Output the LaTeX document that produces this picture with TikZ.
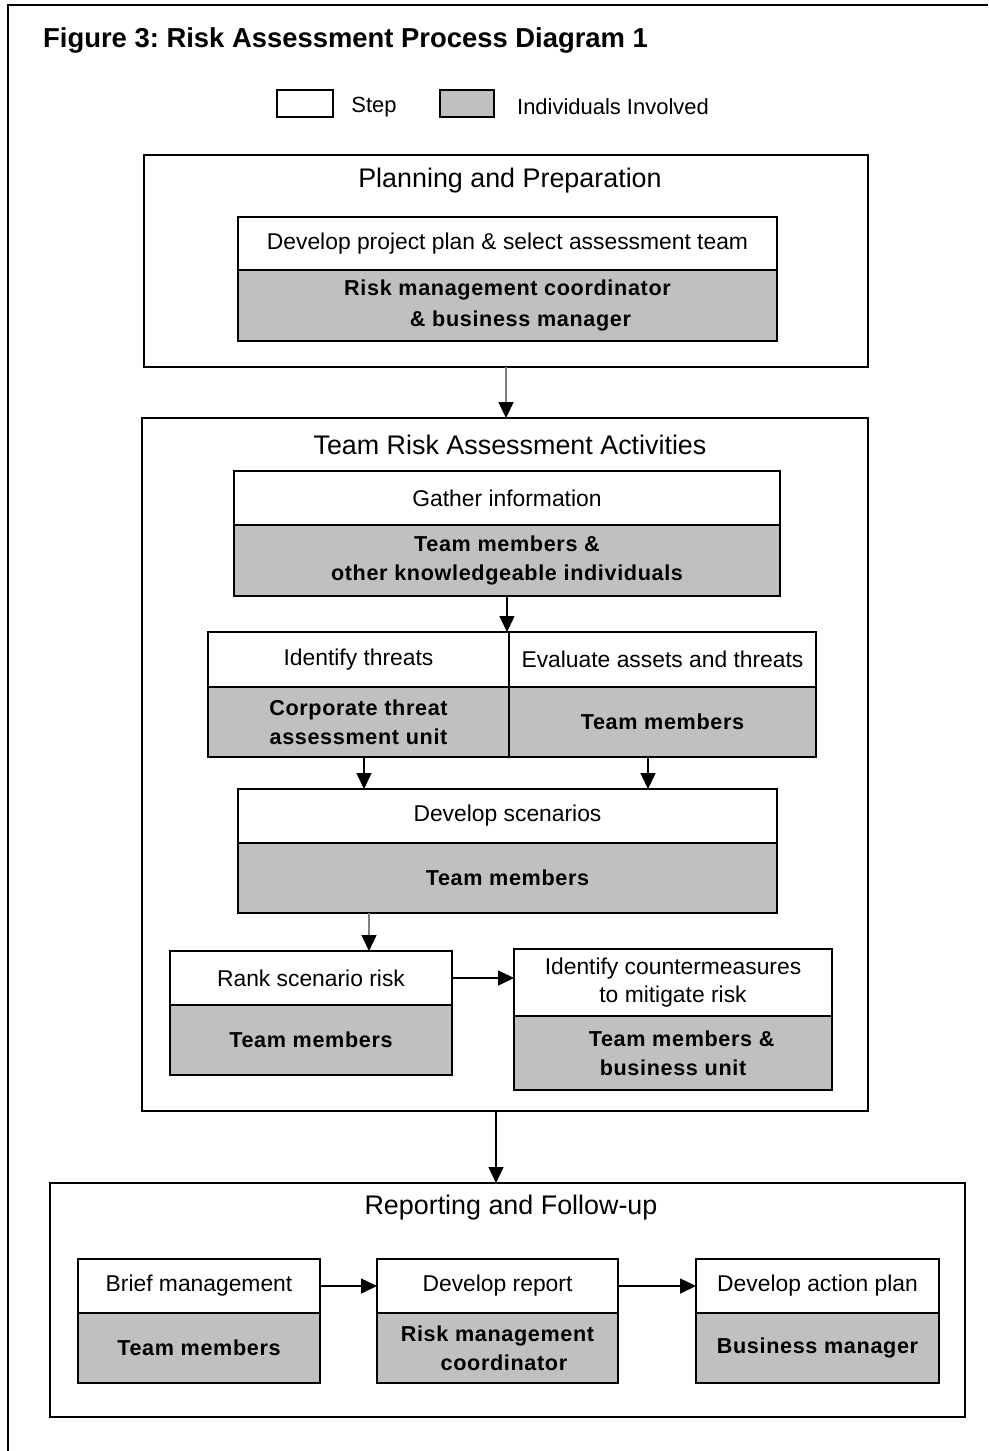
\documentclass[tikz,border=0pt]{standalone}
\usepackage{fontspec}
\setmainfont{Liberation Sans}
\newfontfamily\whofont[LetterSpace=3.0]{Liberation Sans}
\usetikzlibrary{arrows.meta,positioning}
\definecolor{whogrey}{RGB}{192,192,192}
\frenchspacing

\begin{document}
\begin{tikzpicture}[x=0.02cm, y=-0.02cm,
  frame/.style={draw, line width=0.9pt, inner sep=0pt, outer sep=0pt},
  stepcell/.style={draw, line width=0.9pt, fill=white, inner sep=0pt, outer sep=0pt, align=center, font=\fontsize{13}{15.5}\selectfont},
  whocell/.style={draw, line width=0.9pt, fill=whogrey, inner sep=0pt, outer sep=0pt, align=center, font=\whofont\bfseries\fontsize{12.3}{16.5}\selectfont},
  heading/.style={font=\fontsize{15.3}{18}\selectfont},
  keytext/.style={font=\fontsize{12.5}{15}\selectfont},
  flow/.style={line width=0.8pt, -{Triangle[length=0.32cm,width=0.3cm]}},
  greyflow/.style={line width=0.8pt, gray, -{Triangle[length=0.32cm,width=0.3cm,black]}}]
\useasboundingbox (0,0) rectangle (988,1451);

%Outer frame
\draw[line width=1pt] (988,5) -- (8,5) -- (8,1451);

%Title and key
\node[anchor=west, font=\bfseries\fontsize{15.6}{18}\selectfont] (title) at (37,40) {Figure 3: Risk Assessment Process Diagram 1};
\node[stepcell, minimum width=1.12cm, minimum height=0.54cm] (stepkey) at (305,103.5) {};
\node[keytext] (steplabel) at (374,107) {Step};
\node[whocell, minimum width=1.08cm, minimum height=0.54cm] (whokey) at (467,103.5) {};
\node[keytext] (wholabel) at (613,107) {Individuals Involved};

%Planning and Preparation
\node[frame, minimum width=14.48cm, minimum height=4.24cm] (planframe) at (506,261) {};
\node[heading] (planhead) at (510,181) {Planning and Preparation};
\node[stepcell, minimum width=10.78cm, minimum height=1.06cm] (planS) at (507.5,243.5) {Develop project plan \& select assessment team};
\node[whocell, minimum width=10.78cm, minimum height=1.42cm, below=0pt of planS, font=\whofont\bfseries\fontsize{12.3}{18}\selectfont] (planP) {Risk management coordinator\\\hspace{1.2em}\& business manager};

%Team Risk Assessment Activities
\node[frame, minimum width=14.52cm, minimum height=13.86cm] (teamframe) at (505,764.5) {};
\node[heading] (teamhead) at (510,445) {Team Risk Assessment Activities};
\node[stepcell, minimum width=10.92cm, minimum height=1.08cm] (gatherS) at (507,498) {Gather information};
\node[whocell, minimum width=10.92cm, minimum height=1.42cm, below=0pt of gatherS] (gatherP) {Team members \&\\other knowledgeable individuals};
\node[stepcell, minimum width=6.02cm, minimum height=1.1cm] (identS) at (358.5,659.5) {Identify threats};
\node[whocell, minimum width=6.02cm, minimum height=1.4cm, below=0pt of identS] (identP) {Corporate threat\\assessment unit};
\node[stepcell, minimum width=6.14cm, minimum height=1.1cm] (evalS) at (662.5,659.5) {Evaluate assets and threats};
\node[whocell, minimum width=6.14cm, minimum height=1.4cm, below=0pt of evalS] (evalP) {Team members};
\node[stepcell, minimum width=10.78cm, minimum height=1.08cm] (scenS) at (507.5,816) {Develop scenarios};
\node[whocell, minimum width=10.78cm, minimum height=1.4cm, below=0pt of scenS] (scenP) {Team members};
\node[stepcell, minimum width=5.64cm, minimum height=1.08cm] (rankS) at (311,978) {Rank scenario risk};
\node[whocell, minimum width=5.64cm, minimum height=1.4cm, below=0pt of rankS] (rankP) {Team members};
\node[stepcell, minimum width=6.36cm, minimum height=1.34cm] (counterS) at (673,982.5) {Identify countermeasures\\to mitigate risk};
\node[whocell, minimum width=6.36cm, minimum height=1.48cm, below=0pt of counterS] (counterP) {\hspace{0.8em}Team members \&\\business unit};

%Reporting and Follow-up
\node[frame, minimum width=18.3cm, minimum height=4.68cm] (reportframe) at (507.5,1300) {};
\node[heading] (reporthead) at (511,1208) {Reporting and Follow-up};
\node[stepcell, minimum width=4.84cm, minimum height=1.08cm] (briefS) at (199,1286) {Brief management};
\node[whocell, minimum width=4.84cm, minimum height=1.4cm, below=0pt of briefS] (briefP) {Team members};
\node[stepcell, minimum width=4.82cm, minimum height=1.08cm] (reportS) at (497.5,1286) {Develop report};
\node[whocell, minimum width=4.82cm, minimum height=1.4cm, below=0pt of reportS] (reportP) {Risk management\\\hspace{0.6em}coordinator};
\node[stepcell, minimum width=4.86cm, minimum height=1.08cm] (actionS) at (817.5,1286) {Develop action plan};
\node[whocell, minimum width=4.86cm, minimum height=1.4cm, below=0pt of actionS] (actionP) {Business manager};

%Flow arrows
\coordinate (rankin) at (369,951);
\coordinate (teamout) at (496,1111);
\draw[greyflow] (planframe.south) -- (planframe.south |- teamframe.north);
\draw[flow] (gatherP.south) -- (gatherP.south |- identS.north);
\draw[flow] ([xshift=0.11cm]identP.south) -- ([xshift=0.11cm]identP.south |- scenS.north);
\draw[flow] ([xshift=-0.29cm]evalP.south) -- ([xshift=-0.29cm]evalP.south |- scenS.north);
\draw[greyflow] (rankin |- scenP.south) -- (rankin |- rankS.north);
\draw[flow] (rankS.east) -- (rankS.east -| counterS.west);
\draw[flow] (teamout) -- (teamout |- reportframe.north);
\draw[flow] (briefS.east) -- (briefS.east -| reportS.west);
\draw[flow] (reportS.east) -- (reportS.east -| actionS.west);
\end{tikzpicture}
\end{document}
